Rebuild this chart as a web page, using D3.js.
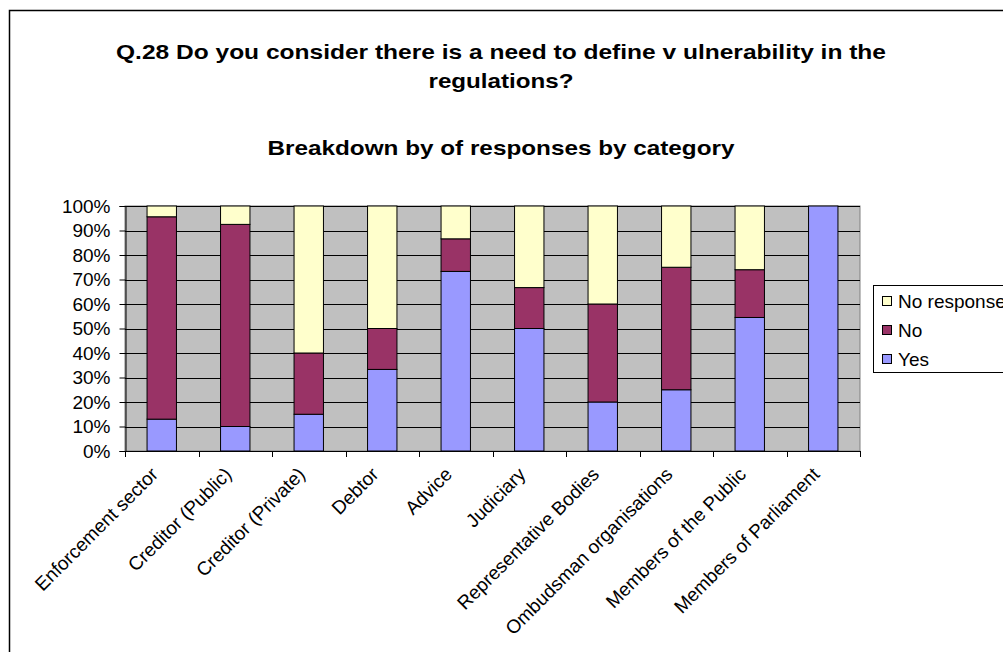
<!DOCTYPE html>
<html>
<head>
<meta charset="utf-8">
<script src="https://cdn.jsdelivr.net/npm/d3@7"></script>
<style>
  body { margin: 0; background: #fff; }
  svg { display: block; }
  text { font-family: "Liberation Sans", Arial, sans-serif; fill: #000; }
</style>
</head>
<body>
<svg id="chart" width="1003" height="652"></svg>
<script>
// Respondent categories along the x axis
const categories = [
  "Enforcement sector", "Creditor (Public)", "Creditor (Private)", "Debtor",
  "Advice", "Judiciary", "Representative Bodies", "Ombudsman organisations",
  "Members of the Public", "Members of Parliament"
];

// Share of responses per category (percent)
const yesValues        = [13.0, 10.0, 15.0, 33.3, 73.3, 50.0, 20.0, 25.0, 54.5, 100];
const noValues         = [82.6, 82.5, 25.0, 16.7, 13.3, 16.7, 40.0, 50.0, 19.5, 0];
const noResponseValues = [4.4,  7.5,  60.0, 50.0, 13.4, 33.3, 40.0, 25.0, 26.0, 0];

const seriesNames  = ["Yes", "No", "No response"];
const seriesColors = ["#9999FF", "#993366", "#FFFFCC"];
const yTickValues  = [0, 10, 20, 30, 40, 50, 60, 70, 80, 90, 100];

const titleLines = ["Q.28 Do you consider there is a need to define v ulnerability in the", "regulations?"];
const subtitle = "Breakdown by of responses by category";

const rows = categories.map((c, i) => ({
  category: c,
  "Yes": yesValues[i],
  "No": noValues[i],
  "No response": noResponseValues[i]
}));

const svg = d3.select("#chart");
const labelSize = 19;

// Outer chart frame
svg.append("rect")
  .attr("x", 9.5).attr("y", 10.5)
  .attr("width", 1100).attr("height", 700)
  .attr("fill", "#fff").attr("stroke", "#000").attr("stroke-width", 1.5);

// Titles (slightly widened bold face)
const titleG = svg.append("g").attr("font-weight", "bold").attr("text-anchor", "middle");
const titleWidths = [770, 145];
titleG.selectAll("text.t").data(titleLines).join("text")
  .attr("class", "t")
  .attr("x", 501).attr("y", (d, i) => 59 + i * 29)
  .attr("font-size", 21)
  .attr("textLength", (d, i) => titleWidths[i])
  .attr("lengthAdjust", "spacingAndGlyphs")
  .text(d => d);
titleG.append("text")
  .attr("x", 501).attr("y", 155)
  .attr("font-size", 21)
  .attr("textLength", 467)
  .attr("lengthAdjust", "spacingAndGlyphs")
  .text(subtitle);

// Plot area
const plot = { left: 125, right: 860, top: 206, bottom: 451 };

const x = d3.scaleBand()
  .domain(categories)
  .range([plot.left, plot.right])
  .paddingInner(0.6)
  .paddingOuter(0.3);

const y = d3.scaleLinear().domain([0, 100]).range([plot.bottom, plot.top]);

svg.append("rect")
  .attr("x", plot.left).attr("y", plot.top)
  .attr("width", plot.right - plot.left).attr("height", plot.bottom - plot.top)
  .attr("fill", "#C0C0C0").attr("stroke", "#808080").attr("stroke-width", 1);

// Horizontal gridlines
svg.append("g").selectAll("line").data(yTickValues.slice(1)).join("line")
  .attr("x1", plot.left).attr("x2", plot.right)
  .attr("y1", d => Math.round(y(d)) + 0.5).attr("y2", d => Math.round(y(d)) + 0.5)
  .attr("stroke", "#000").attr("stroke-width", 1);

// Stacked bars
const stacked = d3.stack().keys(seriesNames)(rows);
svg.append("g").selectAll("g").data(stacked).join("g")
  .attr("fill", (d, i) => seriesColors[i])
  .selectAll("rect").data(d => d.filter(s => s[1] - s[0] > 0)).join("rect")
  .attr("x", d => x(d.data.category))
  .attr("width", x.bandwidth())
  .attr("y", d => y(d[1]))
  .attr("height", d => y(d[0]) - y(d[1]))
  .attr("stroke", "#000").attr("stroke-width", 1);

// Y axis
const yAxis = d3.axisLeft(y)
  .tickValues(yTickValues)
  .tickFormat(d => d + "%")
  .tickSize(6)
  .tickPadding(9);
const yG = svg.append("g").attr("transform", `translate(${plot.left + 0.5},0)`).call(yAxis);
yG.select(".domain").attr("stroke", "#000");
yG.selectAll(".tick line").attr("stroke", "#000");
yG.selectAll(".tick text").attr("font-size", labelSize).attr("font-family", "\"Liberation Sans\", Arial, sans-serif");

// X axis: line plus ticks at category boundaries
const boundaryX = i => Math.round(x(categories[0]) - x.step() * x.paddingOuter() + i * x.step()) + 0.5;
svg.append("line")
  .attr("x1", plot.left).attr("x2", plot.right)
  .attr("y1", plot.bottom + 0.5).attr("y2", plot.bottom + 0.5)
  .attr("stroke", "#000");
svg.append("g").selectAll("line").data(d3.range(categories.length + 1)).join("line")
  .attr("x1", boundaryX).attr("x2", boundaryX)
  .attr("y1", plot.bottom).attr("y2", plot.bottom + 6)
  .attr("stroke", "#000");

// Rotated category labels
svg.append("g").selectAll("text").data(categories).join("text")
  .attr("transform", d => `translate(${x(d) + x.bandwidth() / 2 - 12},${plot.bottom + 15}) rotate(-45)`)
  .attr("text-anchor", "end")
  .attr("dy", "0.71em")
  .attr("font-size", labelSize)
  .text(d => d);

// Legend
const legend = svg.append("g");
legend.append("rect")
  .attr("x", 873.5).attr("y", 285.5)
  .attr("width", 200).attr("height", 87)
  .attr("fill", "#fff").attr("stroke", "#000");
const legendOrder = seriesNames.slice().reverse();
const legendItems = legend.selectAll("g.item").data(legendOrder).join("g")
  .attr("class", "item")
  .attr("transform", (d, i) => `translate(882,${301 + i * 29})`);
legendItems.append("rect")
  .attr("x", 0.5).attr("y", -4.5).attr("width", 9).attr("height", 9)
  .attr("fill", d => seriesColors[seriesNames.indexOf(d)])
  .attr("stroke", "#000");
legendItems.append("text")
  .attr("x", 16).attr("dy", "0.35em")
  .attr("font-size", labelSize)
  .text(d => d);
</script>
</body>
</html>
